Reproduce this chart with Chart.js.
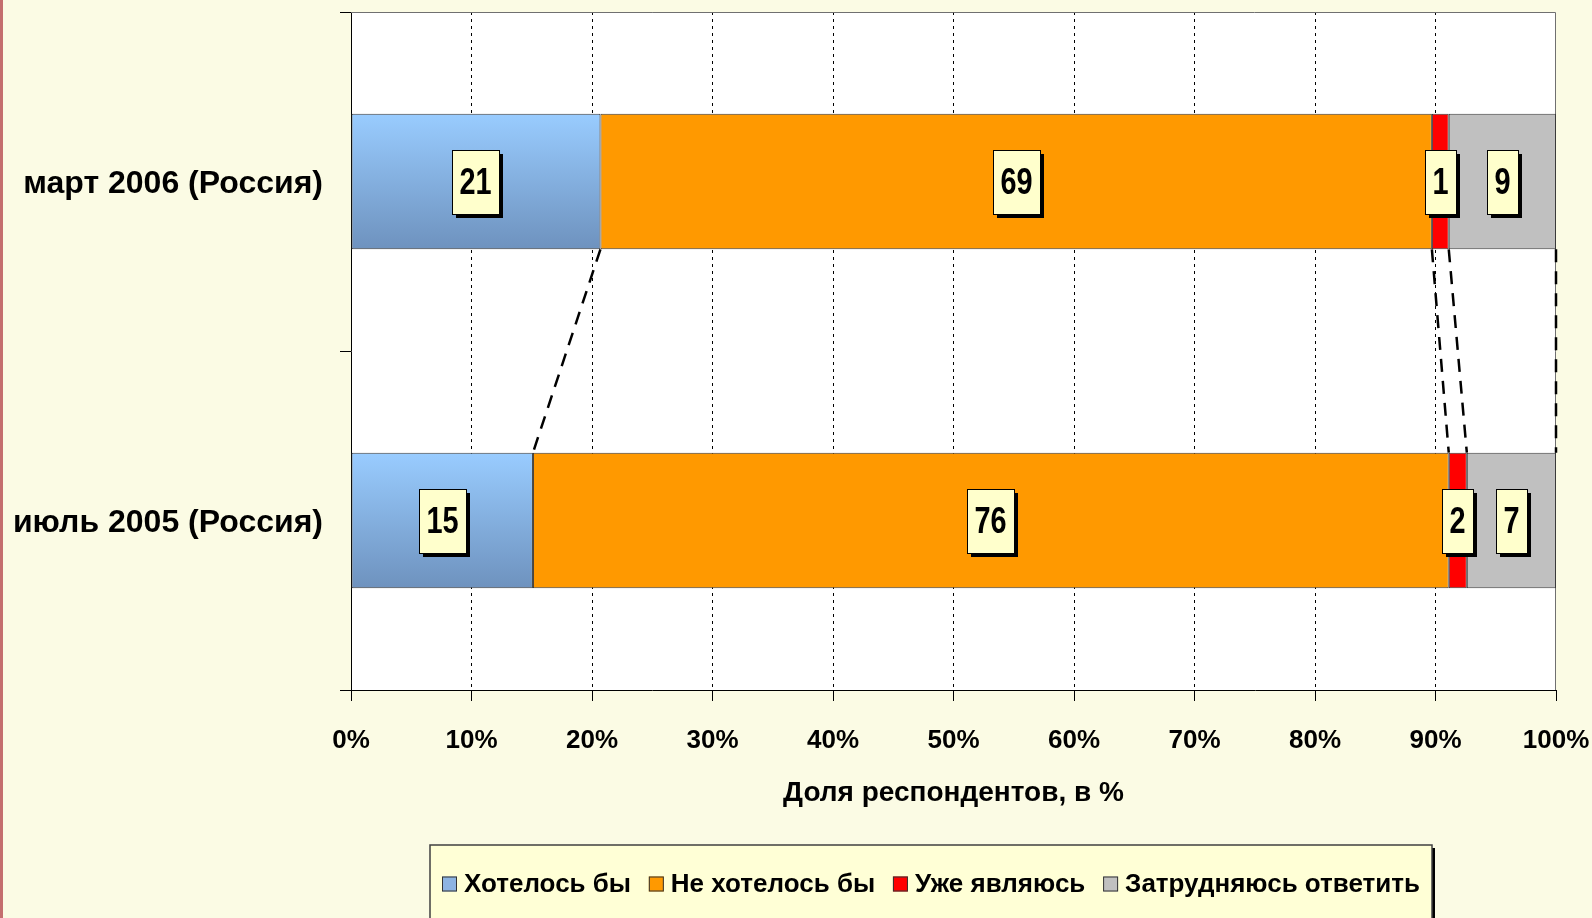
<!DOCTYPE html>
<html><head><meta charset="utf-8">
<script src="https://cdn.jsdelivr.net/npm/chart.js@4.4.1/dist/chart.umd.min.js"></script>
<style>
html,body{margin:0;padding:0;background:#FBFBE4;overflow:hidden;}
canvas{display:block;}
</style></head>
<body>
<canvas id="c" width="1592" height="918"></canvas>
<script>
// ---- data ----
const categories = ['март 2006 (Россия)', 'июль 2005 (Россия)'];
const seriesNames = ['Хотелось бы', 'Не хотелось бы', 'Уже являюсь', 'Затрудняюсь ответить'];
const wantValues    = [20.7, 15.1];
const notWantValues = [69.0, 76.0];
const alreadyValues = [1.4, 1.5];
const unsureValues  = [8.9, 7.4];
const wantLabels    = ['21', '15'];
const notWantLabels = ['69', '76'];
const alreadyLabels = ['1', '2'];
const unsureLabels  = ['9', '7'];
const xTickValues = [0, 10, 20, 30, 40, 50, 60, 70, 80, 90, 100];
const axisTitle = 'Доля респондентов, в %';

const valueLabels = [wantLabels, notWantLabels, alreadyLabels, unsureLabels];
const legendColors = ['#8DB4E2', '#FF9900', '#FF0000', '#C0C0C0'];

const FONT = "'Liberation Sans', Arial, sans-serif";

function blueGradient(ctx) {
  const chart = ctx.chart;
  if (!chart.chartArea) return '#86ACDA';
  const ys = chart.scales.y;
  const yc = ys.getPixelForValue(ctx.dataIndex);
  const half = (ys.height / categories.length) * 0.4 / 2;
  const g = chart.ctx.createLinearGradient(0, yc - half, 0, yc + half);
  g.addColorStop(0, '#99CCFF');
  g.addColorStop(1, '#6E92BE');
  return g;
}

const bgPlugin = {
  id: 'bg',
  beforeDraw(chart) {
    const c = chart.ctx, a = chart.chartArea;
    c.save();
    c.fillStyle = '#FBFBE4';
    c.fillRect(0, 0, chart.width, chart.height);
    c.fillStyle = '#C46E6E';
    c.fillRect(0, 0, 3, chart.height);
    c.fillStyle = '#FFFFFF';
    c.fillRect(a.left, a.top, a.right - a.left, a.bottom - a.top);
    c.restore();
  },
  beforeDatasetsDraw(chart) {
    const c = chart.ctx, a = chart.chartArea;
    c.save();
    c.strokeStyle = '#707070';
    c.lineWidth = 1;
    c.beginPath();
    c.moveTo(a.left, a.top + 0.5);
    c.lineTo(a.right - 0.5, a.top + 0.5);
    c.lineTo(a.right - 0.5, a.bottom);
    c.stroke();
    c.restore();
  }
};

const seriesLinePlugin = {
  id: 'serieslines',
  afterDatasetsDraw(chart) {
    const c = chart.ctx;
    const n = chart.data.datasets.length;
    c.save();
    c.strokeStyle = '#000';
    c.lineWidth = 2.5;
    c.setLineDash([13, 9]);
    for (let i = 0; i < n; i++) {
      const meta = chart.getDatasetMeta(i);
      for (let j = 0; j < categories.length - 1; j++) {
        const e1 = meta.data[j], e2 = meta.data[j + 1];
        const y1 = e1.y + e1.height / 2;
        const y2 = e2.y - e2.height / 2;
        c.beginPath();
        c.moveTo(e1.x, y1);
        c.lineTo(e2.x, y2);
        c.stroke();
      }
    }
    c.restore();
  }
};

const labelPlugin = {
  id: 'boxlabels',
  afterDatasetsDraw(chart) {
    const c = chart.ctx;
    const sx = 0.78;
    c.save();
    c.font = 'bold 37px ' + FONT;
    c.textAlign = 'center';
    c.textBaseline = 'middle';
    chart.data.datasets.forEach((ds, i) => {
      const meta = chart.getDatasetMeta(i);
      meta.data.forEach((el, j) => {
        const txt = valueLabels[i][j];
        const cx = (el.x + el.base) / 2;
        const cy = el.y;
        const w = Math.round(c.measureText(txt).width * sx + 15);
        const h = 64;
        const x = Math.round(cx - w / 2), y = Math.round(cy - h / 2);
        c.fillStyle = '#000';
        c.fillRect(x + 4, y + 4, w, h);
        c.fillStyle = '#FFFFCC';
        c.fillRect(x, y, w, h);
        c.strokeStyle = '#000';
        c.lineWidth = 1;
        c.strokeRect(x + 0.5, y + 0.5, w, h);
        c.save();
        c.translate(x + w / 2, y + h / 2 + 2);
        c.scale(sx, 1);
        c.fillStyle = '#000';
        c.fillText(txt, 0, 0);
        c.restore();
      });
    });
    c.restore();
  }
};

const legendPlugin = {
  id: 'boxlegend',
  afterDraw(chart) {
    const c = chart.ctx;
    const bx = 430, by = 845, bw = 1002, bh = 90;
    c.save();
    c.fillStyle = '#000';
    c.fillRect(bx + bw, by + 3, 3, bh);
    c.fillStyle = '#FFFFD6';
    c.fillRect(bx, by, bw, bh);
    c.strokeStyle = '#404040';
    c.lineWidth = 1.5;
    c.strokeRect(bx, by, bw, bh);
    c.font = 'bold 26px ' + FONT;
    c.textBaseline = 'middle';
    const sq = 15, gapT = 7;
    const widths = chart.data.datasets.map(d => c.measureText(d.label).width);
    const startX = 442, endX = 1420;
    const totalFixed = widths.reduce((a, b) => a + b, 0) + chart.data.datasets.length * (sq + gapT);
    const gap = (endX - startX - totalFixed) / (chart.data.datasets.length - 1);
    let x = startX;
    const cy = 884;
    chart.data.datasets.forEach((d, i) => {
      c.fillStyle = legendColors[i];
      c.fillRect(x, cy - sq / 2, sq, sq);
      c.strokeStyle = '#333';
      c.lineWidth = 1;
      c.strokeRect(x + 0.5, cy - sq / 2 + 0.5, sq - 1, sq - 1);
      c.fillStyle = '#000';
      c.fillText(d.label, x + sq + gapT, cy + 1);
      x += sq + gapT + widths[i] + gap;
    });
    c.restore();
  }
};

const common = { borderColor: '#3A3A3A', borderWidth: 1, borderSkipped: false, barPercentage: 0.4, categoryPercentage: 1.0 };

new Chart(document.getElementById('c'), {
  type: 'bar',
  data: {
    labels: categories,
    datasets: [
      Object.assign({ label: seriesNames[0], data: wantValues, backgroundColor: blueGradient }, common),
      Object.assign({ label: seriesNames[1], data: notWantValues, backgroundColor: '#FF9900' }, common),
      Object.assign({ label: seriesNames[2], data: alreadyValues, backgroundColor: '#FF0000' }, common),
      Object.assign({ label: seriesNames[3], data: unsureValues, backgroundColor: '#C0C0C0' }, common)
    ]
  },
  options: {
    indexAxis: 'y',
    responsive: false,
    devicePixelRatio: 1,
    animation: false,
    layout: { padding: { left: 0, top: 12, right: 36, bottom: 108 } },
    plugins: { legend: { display: false }, tooltip: { enabled: false }, title: { display: false } },
    scales: {
      x: {
        stacked: true,
        min: 0, max: 100,
        afterBuildTicks(scale) { scale.ticks = xTickValues.map(v => ({ value: v })); },
        afterFit(scale) { scale.height = 120; scale.paddingLeft = 0; scale.paddingRight = 0; scale.paddingTop = 0; scale.paddingBottom = 0; },
        ticks: { callback: v => v + '%', color: '#000', font: { family: FONT, size: 26, weight: 'bold' }, padding: 24, maxRotation: 0, autoSkip: false },
        grid: {
          color: ctx => (ctx.tick && (ctx.tick.value === 0 || ctx.tick.value === 100)) ? 'rgba(0,0,0,0)' : '#000',
          lineWidth: 1, tickLength: 11, tickColor: '#000', tickBorderDash: [], drawTicks: true
        },
        border: { display: true, color: '#000', width: 1, dash: [3, 4] },
        title: { display: true, text: axisTitle, color: '#000', font: { family: FONT, size: 28, weight: 'bold' }, padding: { top: 0, bottom: 0 } }
      },
      y: {
        stacked: true,
        afterFit(scale) { scale.width = 351; scale.paddingTop = 0; scale.paddingBottom = 0; scale.paddingLeft = 0; scale.paddingRight = 0; },
        ticks: { color: '#000', font: { family: FONT, size: 32, weight: 'bold' }, padding: 17, labelOffset: 3 },
        grid: { drawOnChartArea: false, drawTicks: true, tickLength: 11, color: '#000', tickColor: '#000', offset: true },
        border: { display: true, color: '#000', width: 1 }
      }
    }
  },
  plugins: [bgPlugin, seriesLinePlugin, labelPlugin, legendPlugin]
});
</script>
</body></html>
